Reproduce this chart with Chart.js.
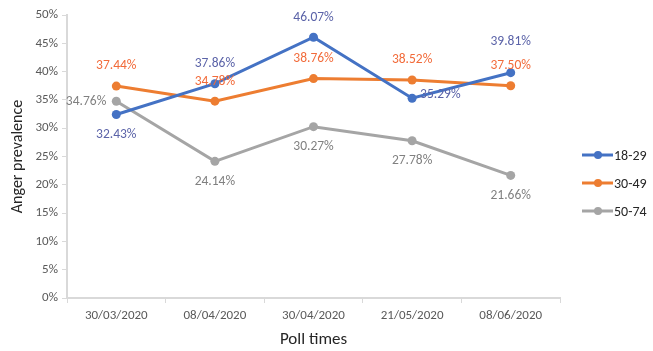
<!DOCTYPE html>
<html>
<head>
<meta charset="utf-8">
<script src="https://cdn.jsdelivr.net/npm/chart.js@4/dist/chart.umd.min.js"></script>
<style>
  html, body { margin: 0; padding: 0; background: #fff; }
  #wrap { width: 653px; height: 351px; position: relative; }
</style>
</head>
<body>
<div id="wrap"><canvas id="angerChart"></canvas></div>
<script>
const pollTimes = ['30/03/2020', '08/04/2020', '30/04/2020', '21/05/2020', '08/06/2020'];
const age18to29 = [32.43, 37.86, 46.07, 35.29, 39.81];
const age30to49 = [37.44, 34.78, 38.76, 38.52, 37.50];
const age50to74 = [34.76, 24.14, 30.27, 27.78, 21.66];
const seriesNames = ['18-29', '30-49', '50-74'];

// where each data label sits relative to its point
// ('high' = above, pushed up further to clear the label underneath)
const labelPos = [
  ['below', 'above', 'above', 'right', 'high'],
  ['above', 'above', 'above', 'above', 'above'],
  ['left', 'below', 'below', 'below', 'below']
];
const lineColors = ['#4472C4', '#ED7D31', '#A5A5A5'];
const labelColors = ['#5B63A8', '#F26B3A', '#808080'];
const FONT = 'Carlito, Lato, sans-serif';

// data labels + legend drawn by hand (no datalabels plugin available)
const excelLook = {
  id: 'excelLook',
  afterDatasetsDraw(chart) {
    const ctx = chart.ctx;
    ctx.save();
    ctx.font = '13.5px ' + FONT;
    chart.data.datasets.forEach((ds, i) => {
      const meta = chart.getDatasetMeta(i);
      ctx.fillStyle = labelColors[i];
      meta.data.forEach((pt, j) => {
        const txt = ds.data[j].toFixed(2) + '%';
        const pos = labelPos[i][j];
        let x = pt.x, y = pt.y;
        ctx.textAlign = 'center';
        ctx.textBaseline = 'middle';
        if (pos === 'above') y -= 20;
        else if (pos === 'high') y -= 31;
        else if (pos === 'below') y += 20;
        else if (pos === 'right') { ctx.textAlign = 'left'; x += 8; y -= 4; }
        else if (pos === 'left') { ctx.textAlign = 'right'; x -= 10; }
        ctx.fillText(txt, x, y);
      });
    });

    // legend on the right
    ctx.font = '14px ' + FONT;
    ctx.textAlign = 'left';
    ctx.textBaseline = 'middle';
    seriesNames.forEach((name, i) => {
      const y = 155 + i * 28;
      ctx.strokeStyle = lineColors[i];
      ctx.lineWidth = 3;
      ctx.beginPath();
      ctx.moveTo(582, y);
      ctx.lineTo(613, y);
      ctx.stroke();
      ctx.fillStyle = lineColors[i];
      ctx.beginPath();
      ctx.arc(598, y, 4, 0, Math.PI * 2);
      ctx.fill();
      ctx.fillStyle = '#262626';
      ctx.fillText(name, 614, y + 1);
    });
    ctx.restore();
  }
};

function makeSet(label, data, color) {
  return {
    label,
    data,
    borderColor: color,
    backgroundColor: color,
    borderWidth: 3,
    pointRadius: 4.5,
    pointHoverRadius: 4.5,
    pointBorderWidth: 0,
    tension: 0
  };
}

new Chart(document.getElementById('angerChart'), {
  type: 'line',
  data: {
    labels: pollTimes,
    datasets: [
      makeSet(seriesNames[0], age18to29, lineColors[0]),
      makeSet(seriesNames[1], age30to49, lineColors[1]),
      makeSet(seriesNames[2], age50to74, lineColors[2])
    ]
  },
  plugins: [excelLook],
  options: {
    responsive: true,
    maintainAspectRatio: false,
    animation: false,
    layout: { padding: { left: 0, right: 93, top: 15, bottom: 0 } },
    plugins: { legend: { display: false }, tooltip: { enabled: false } },
    scales: {
      x: {
        offset: true,
        afterFit: (s) => { s.height = 53; },
        grid: { drawOnChartArea: false, offset: true, color: '#D9D9D9', tickLength: 5, lineWidth: 1 },
        border: { color: '#D9D9D9', width: 2 },
        ticks: { color: '#595959', font: { family: FONT, size: 13 }, padding: 5, maxRotation: 0 },
        title: { display: true, text: 'Poll times', color: '#262626', font: { family: FONT, size: 17 }, padding: { top: 0, bottom: 1 } }
      },
      y: {
        min: 0,
        max: 50,
        afterFit: (s) => { s.width = 67; },
        grid: { drawOnChartArea: false, color: '#D9D9D9', tickLength: 5 },
        border: { color: '#D9D9D9', width: 2 },
        ticks: { stepSize: 5, color: '#595959', font: { family: FONT, size: 13 }, padding: 4, callback: (v) => v + '%' },
        title: { display: true, text: 'Anger prevalence', color: '#262626', font: { family: FONT, size: 16 }, padding: { top: 8, bottom: 0 } }
      }
    }
  }
});
</script>
</body>
</html>
